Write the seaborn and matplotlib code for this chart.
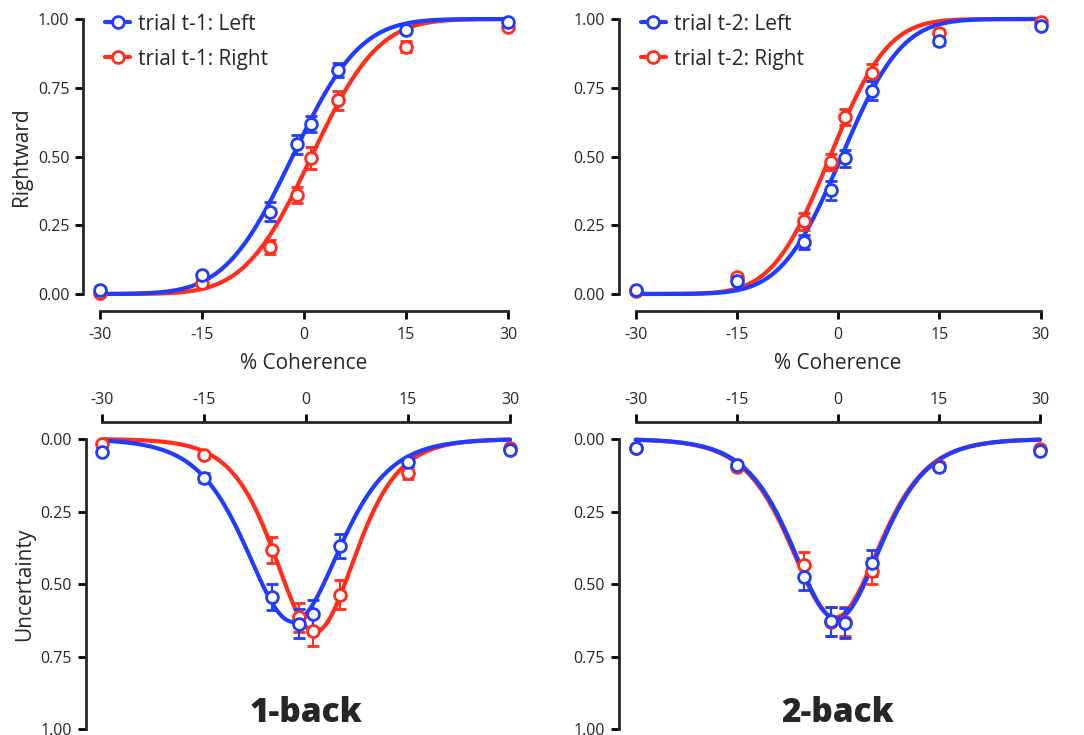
import math
import numpy as np
import pandas as pd
import matplotlib
matplotlib.use('Agg')
import matplotlib.pyplot as plt
import seaborn as sns

# coherence levels used in the task
coherence = [-30, -15, -5, -1, 1, 5, 15, 30]

# --- rightward choice, 1-back ---
right_t1_left = [0.016, 0.068, 0.30, 0.544, 0.618, 0.815, 0.96, 0.99]
right_t1_left_err = [0.008, 0.010, 0.035, 0.035, 0.030, 0.025, 0.012, 0.006]
right_t1_right = [0.005, 0.040, 0.17, 0.36, 0.493, 0.705, 0.90, 0.97]
right_t1_right_err = [0.004, 0.010, 0.025, 0.030, 0.040, 0.035, 0.020, 0.008]

# --- rightward choice, 2-back ---
right_t2_left = [0.015, 0.047, 0.19, 0.377, 0.493, 0.739, 0.92, 0.975]
right_t2_left_err = [0.006, 0.010, 0.025, 0.035, 0.030, 0.035, 0.015, 0.008]
right_t2_right = [0.011, 0.063, 0.264, 0.48, 0.644, 0.805, 0.95, 0.99]
right_t2_right_err = [0.005, 0.010, 0.030, 0.030, 0.030, 0.030, 0.012, 0.006]

# --- uncertainty, 1-back ---
unc_t1_left = [0.045, 0.134, 0.544, 0.636, 0.604, 0.369, 0.079, 0.037]
unc_t1_left_err = [0.008, 0.015, 0.045, 0.050, 0.050, 0.040, 0.015, 0.006]
unc_t1_right = [0.018, 0.056, 0.383, 0.614, 0.662, 0.537, 0.117, 0.030]
unc_t1_right_err = [0.006, 0.010, 0.045, 0.050, 0.050, 0.050, 0.020, 0.006]

# --- uncertainty, 2-back ---
unc_t2_left = [0.030, 0.091, 0.474, 0.628, 0.634, 0.426, 0.095, 0.040]
unc_t2_left_err = [0.006, 0.010, 0.045, 0.050, 0.050, 0.045, 0.012, 0.006]
unc_t2_right = [0.032, 0.095, 0.434, 0.629, 0.630, 0.455, 0.093, 0.036]
unc_t2_right_err = [0.006, 0.010, 0.045, 0.050, 0.050, 0.045, 0.012, 0.006]

# fitted model parameters
psy_fit = {'t1_left': (-1.7, 7.8), 't1_right': (1.1, 7.7),
           't2_left': (0.5, 7.0), 't2_right': (-1.2, 6.7)}       # mu, sigma
unc_fit = {'t1_left': (0.63, -1.95, 4.6), 't1_right': (0.665, 1.3, 4.0),
           't2_left': (0.62, -0.2, 4.37), 't2_right': (0.615, -0.4, 4.4)}  # amp, mu, scale

BLUE = '#1f3cff'
RED = '#ff2d1a'

xs = np.linspace(-30, 30, 400)
norm_cdf = np.vectorize(lambda z: 0.5 * (1 + math.erf(z / math.sqrt(2))))


def psy_curve(mu, sigma):
    return norm_cdf((xs - mu) / sigma)


def unc_curve(amp, mu, s):
    p = 1 / (1 + np.exp(-(xs - mu) / s))
    return amp * 4 * p * (1 - p)


sns.set_style('ticks')
plt.rcParams['font.family'] = ['Open Sans', 'DejaVu Sans']

fig = plt.figure(figsize=(10.84, 7.35), dpi=100)
ax_tl = fig.add_axes([0.0923, 0.600, 0.3764, 0.3741])
ax_tr = fig.add_axes([0.5864, 0.600, 0.3736, 0.3741])
ax_bl = fig.add_axes([0.0944, 0.0078, 0.3761, 0.395])
ax_br = fig.add_axes([0.5864, 0.0078, 0.3730, 0.395])

err_kw = dict(fmt='o', ms=8.5, mew=2, mfc='white', elinewidth=1.5, capsize=4.5,
              capthick=1.5, clip_on=False, zorder=4)


def draw(ax, key, y_left, e_left, y_right, e_right, curve_fn, params):
    df = pd.DataFrame({'x': np.concatenate([xs, xs]),
                       'y': np.concatenate([curve_fn(*params[key + '_right']),
                                            curve_fn(*params[key + '_left'])]),
                       'side': ['Right'] * len(xs) + ['Left'] * len(xs)})
    sns.lineplot(data=df, x='x', y='y', hue='side', palette={'Right': RED, 'Left': BLUE},
                 hue_order=['Right', 'Left'], lw=3, ax=ax, legend=False, clip_on=False, zorder=3)
    hr = ax.errorbar(coherence, y_right, yerr=e_right, color=RED, **err_kw)
    hl = ax.errorbar(coherence, y_left, yerr=e_left, color=BLUE, **err_kw)
    for h in (hr, hl):
        for art in h.lines[1] + h.lines[2]:
            art.set_clip_on(False)


def legend_handle(color):
    return plt.Line2D([], [], color=color, lw=3, marker='o', ms=8.5, mew=2, mfc='white')


# top row: rightward choice
for ax, key, yl, el, yr, er, tag in [
        (ax_tl, 't1', right_t1_left, right_t1_left_err, right_t1_right, right_t1_right_err, 't-1'),
        (ax_tr, 't2', right_t2_left, right_t2_left_err, right_t2_right, right_t2_right_err, 't-2')]:
    draw(ax, key, yl, el, yr, er, psy_curve, psy_fit)
    ax.set_ylim(0, 1)
    ax.set_xlim(-30, 30)
    ax.set_xlabel('% Coherence', fontsize=15, labelpad=7)
    ax.set_ylabel('')
    ax.legend([legend_handle(BLUE), legend_handle(RED)],
              [f'trial {tag}: Left', f'trial {tag}: Right'],
              loc='upper left', bbox_to_anchor=(-0.008, 1.05), borderaxespad=0,
              frameon=False, fontsize=15, handlelength=1.2, handletextpad=0.4,
              labelspacing=0.68)

ax_tl.set_ylabel('Rightward', fontsize=15, labelpad=4)

# bottom row: uncertainty
for ax, key, yl, el, yr, er, title in [
        (ax_bl, 't1', unc_t1_left, unc_t1_left_err, unc_t1_right, unc_t1_right_err, '1-back'),
        (ax_br, 't2', unc_t2_left, unc_t2_left_err, unc_t2_right, unc_t2_right_err, '2-back')]:
    draw(ax, key, yl, el, yr, er, unc_curve, unc_fit)
    ax.set_xlim(-30, 30)
    ax.set_ylim(1, 0)
    ax.xaxis.tick_top()
    ax.set_xlabel('')
    ax.set_ylabel('')
    ax.text(0, 0.945, title, ha='center', va='center', fontsize=24, fontweight='heavy')

ax_bl.set_ylabel('Uncertainty', fontsize=15, labelpad=4)

for ax in (ax_tl, ax_tr, ax_bl, ax_br):
    ax.set_xticks([-30, -15, 0, 15, 30])
    ax.set_xticklabels(['-30', '-15', '0', '15', '30'])
    ax.set_yticks([0, 0.25, 0.5, 0.75, 1.0])
    ax.set_yticklabels(['0.00', '0.25', '0.50', '0.75', '1.00'])
    ax.tick_params(axis='both', labelsize=11.5, width=2, length=6, color='black', pad=4)
    for sp in ax.spines.values():
        sp.set_linewidth(2)
    ax.patch.set_alpha(0)

for ax in (ax_tl, ax_tr):
    ax.tick_params(axis='x', pad=6)
    sns.despine(ax=ax, offset=12)
for ax in (ax_bl, ax_br):
    sns.despine(ax=ax, top=False, bottom=True, offset=12)
    ax.spines['top'].set_position(('outward', 12))

fig.savefig('out.png', dpi=100)
